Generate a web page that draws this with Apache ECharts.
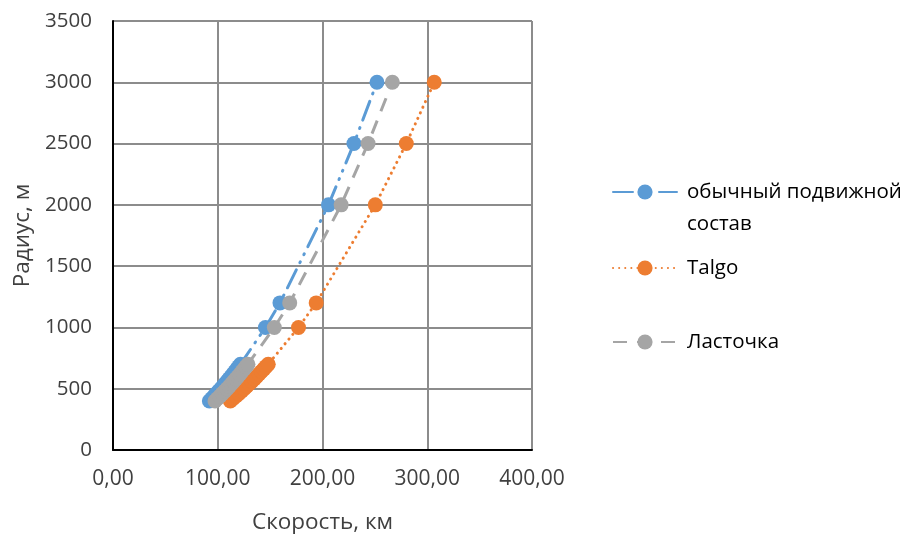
<!DOCTYPE html>
<html>
<head>
<meta charset="utf-8">
<script src="https://cdn.jsdelivr.net/npm/echarts@6/dist/echarts.min.js"></script>
<style>
  html, body { margin: 0; padding: 0; background: #ffffff; }
  #chart { width: 906px; height: 534px; }
</style>
</head>
<body>
<div id="chart"></div>
<script>
// Curve radii, m
const radii = [400, 420, 440, 460, 480, 500, 520, 540, 560, 580, 600, 620, 640, 660, 680, 700, 1000, 1200, 2000, 2500, 3000];

// Permitted speed on each radius, km/h
const speedRegular = [92.0, 94.3, 96.5, 98.7, 100.8, 102.9, 104.9, 106.9, 108.9, 110.8, 112.7, 114.5, 116.4, 118.2, 120.0, 121.7, 145.5, 159.4, 205.7, 230.0, 252.0];
const speedTalgo = [112.0, 114.8, 117.5, 120.1, 122.7, 125.2, 127.7, 130.1, 132.5, 134.9, 137.2, 139.4, 141.7, 143.9, 146.0, 148.2, 177.1, 194.0, 250.4, 280.0, 306.7];
const speedLastochka = [97.4, 99.8, 102.2, 104.4, 106.7, 108.9, 111.1, 113.2, 115.2, 117.3, 119.3, 121.3, 123.2, 125.1, 127.0, 128.8, 154.0, 168.7, 217.8, 243.5, 266.7];

const seriesNames = ['обычный подвижной состав', 'Talgo', 'Ласточка'];
const xAxisTitle = 'Скорость, км';
const yAxisTitle = 'Радиус, м';

const pairs = (speeds) => speeds.map((v, i) => [v, radii[i]]);

const FONT = 'Open Sans';
const chart = echarts.init(document.getElementById('chart'));

const legendText = { fontFamily: FONT, fontSize: 20.5, color: '#000000', lineHeight: 32, padding: [0, 0, 0, 5] };
const legendBase = {
  orient: 'vertical',
  left: 607,
  itemWidth: 64,
  itemHeight: 19,
  textStyle: legendText
};

chart.setOption({
  animation: false,
  backgroundColor: '#ffffff',
  grid: { left: 113, right: 374, top: 21, bottom: 84, outerBoundsMode: 'none' },
  xAxis: {
    type: 'value',
    min: 0, max: 400, interval: 100,
    name: xAxisTitle,
    nameLocation: 'middle',
    nameGap: 61,
    nameTextStyle: { fontFamily: FONT, fontSize: 22.5, color: '#404040' },
    axisLine: { show: true, onZero: false, lineStyle: { color: '#000000', width: 2 } },
    axisTick: { show: false },
    axisLabel: {
      margin: 19,
      fontFamily: FONT, fontSize: 21, color: '#404040',
      formatter: (v) => v.toFixed(2).replace('.', ',')
    },
    splitLine: { show: true, lineStyle: { color: '#8c8c8c', width: 2 } }
  },
  yAxis: {
    type: 'value',
    min: 0, max: 3500, interval: 500,
    name: yAxisTitle,
    nameLocation: 'middle',
    nameGap: 79,
    nameTextStyle: { fontFamily: FONT, fontSize: 22.5, color: '#404040' },
    axisLine: { show: true, lineStyle: { color: '#000000', width: 2 } },
    axisTick: { show: false },
    axisLabel: { margin: 21, fontFamily: FONT, fontSize: 20.5, color: '#404040', formatter: (v) => String(v) },
    splitLine: { show: true, lineStyle: { color: '#8c8c8c', width: 2 } }
  },
  legend: [
    Object.assign({}, legendBase, {
      top: 139,
      data: [seriesNames[0]],
      // leading empty line keeps the icon level with the first text line
      formatter: () => '\nобычный подвижной\nсостав'
    }),
    Object.assign({}, legendBase, { top: 247, data: [seriesNames[1]] }),
    Object.assign({}, legendBase, { top: 321, data: [seriesNames[2]] })
  ],
  series: [
    {
      name: seriesNames[0],
      type: 'line',
      data: pairs(speedRegular),
      symbol: 'circle',
      symbolSize: 15,
      itemStyle: { color: '#5b9bd5' },
      lineStyle: { color: '#5b9bd5', width: 3, type: [20, 8, 1, 8, 1, 8], cap: 'round' },
      z: 2
    },
    {
      name: seriesNames[1],
      type: 'line',
      data: pairs(speedTalgo),
      symbol: 'circle',
      symbolSize: 15,
      itemStyle: { color: '#ed7d31' },
      lineStyle: { color: '#ed7d31', width: 3, type: [0.1, 6], cap: 'round' },
      z: 3
    },
    {
      name: seriesNames[2],
      type: 'line',
      data: pairs(speedLastochka),
      symbol: 'circle',
      symbolSize: 15,
      itemStyle: { color: '#a5a5a5' },
      lineStyle: { color: '#a5a5a5', width: 3, type: [14, 10] },
      z: 4
    }
  ]
});
</script>
</body>
</html>
